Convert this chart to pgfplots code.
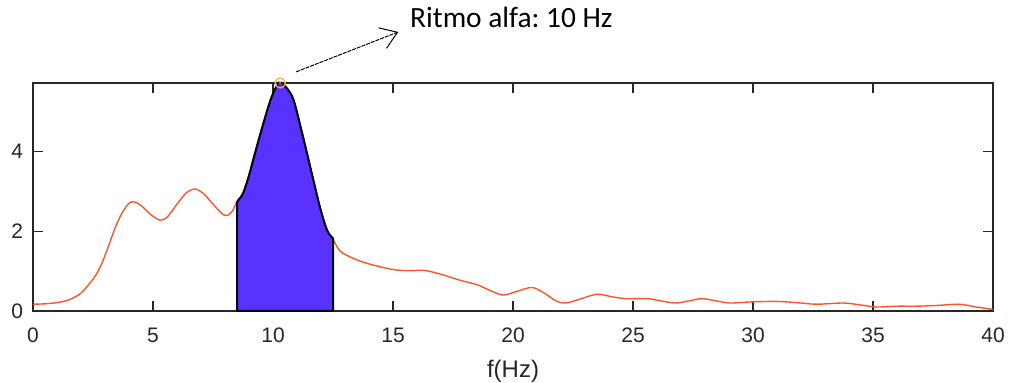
\documentclass[border=0pt]{standalone}
\usepackage{fontspec}
\setmainfont{Liberation Sans}
\newfontfamily\notefont{Carlito}
\usepackage{pgfplots}
\pgfplotsset{compat=1.18}
\usetikzlibrary{arrows.meta}

\definecolor{spec}{RGB}{250,85,45}
\definecolor{alpha}{RGB}{90,50,255}
\definecolor{axgray}{RGB}{38,38,38}
\definecolor{peakmk}{RGB}{240,180,50}

\begin{document}
\frenchspacing
\begin{tikzpicture}
\path[use as bounding box] (-16.5pt,-36pt) rectangle (488.5pt,155.5pt);
\begin{axis}[
  scale only axis,
  width=480pt, height=114pt,
  xmin=0, xmax=40, ymin=0, ymax=5.72,
  xtick={0,5,...,40}, ytick={0,2,4},
  tick align=inside,
  major tick length=5pt,
  axis line style={axgray, line width=0.65pt},
  every tick/.style={axgray, line width=0.65pt},
  tick label style={font=\fontsize{10.5}{12}\selectfont, text=axgray},
  /pgf/number format/assume math mode=true,
  xticklabel style={yshift=-5pt},
  yticklabel style={xshift=-1.5pt},
  xlabel={f(Hz)},
  xlabel style={font=\fontsize{12}{14}\selectfont, text=axgray,
    at={(axis description cs:0.5,0)}, anchor=north, yshift=-21.2pt},
  clip=false,
]
% power spectrum
\addplot[spec, line width=0.7pt, smooth] coordinates {
(0,0.17) (0.5,0.18) (1.0,0.21) (1.5,0.28) (2.0,0.45) (2.5,0.80) (2.8,1.10)
(3.1,1.55) (3.4,2.05) (3.7,2.45) (4.0,2.70) (4.2,2.74) (4.5,2.65) (4.9,2.42)
(5.3,2.28) (5.6,2.36) (6.0,2.68) (6.4,2.97) (6.75,3.06) (7.1,2.95) (7.5,2.68)
(7.9,2.43) (8.1,2.40) (8.3,2.50) (8.5,2.74) (8.75,2.95) (9.0,3.40) (9.2,3.85)
(9.6,4.71) (9.95,5.38) (10.3,5.72) (10.8,5.38) (11.15,4.62) (11.55,3.62)
(11.95,2.62) (12.25,2.03) (12.5,1.80) (12.8,1.50) (13.35,1.32) (14.0,1.18)
(15.0,1.04) (15.7,1.01) (16.3,1.02) (17.0,0.92) (17.8,0.77) (18.5,0.66)
(19.1,0.50) (19.6,0.40) (20.2,0.50) (20.8,0.59) (21.3,0.45) (21.8,0.25)
(22.2,0.20) (22.8,0.30) (23.5,0.42) (24.1,0.36) (24.7,0.31) (25.6,0.31)
(26.1,0.26) (26.75,0.20) (27.3,0.25) (27.86,0.31) (28.5,0.25) (29.04,0.20)
(30.0,0.23) (31.0,0.24) (31.8,0.21) (32.65,0.17) (33.76,0.20) (34.5,0.15)
(35.15,0.10) (36.0,0.12) (36.8,0.12) (37.7,0.14) (38.6,0.17) (39.3,0.10)
(40,0.04)};
% alpha band 8.5--12.5 Hz
\addplot[fill=alpha, draw=black, line width=1pt, smooth] coordinates {
(8.5,2.74) (8.75,2.95) (9.0,3.40) (9.2,3.85) (9.6,4.71) (9.95,5.38)
(10.3,5.72) (10.8,5.38) (11.15,4.62) (11.55,3.62) (11.95,2.62)
(12.25,2.03) (12.5,1.82)} \closedcycle;
% spectral peak
\addplot[only marks, mark=o, mark size=2.5pt, draw=peakmk, line width=0.6pt]
  coordinates {(10.3,5.72)};
\addplot[only marks, mark=x, mark size=1.3pt, draw=violet!70, line width=0.4pt]
  coordinates {(10.3,5.72)};
\draw[black, line width=0.5pt, dash pattern=on 2pt off 0.5pt,
  -{Straight Barb[length=8pt, width=11pt, line width=0.5pt]}]
  (axis cs:10.97,6.0) -- (axis cs:15.22,7.0);
\node[anchor=base west, inner sep=0, font=\notefont\fontsize{14.7}{17}\selectfont]
  at (axis cs:15.7,7.1) {Ritmo alfa: 10 Hz};
\end{axis}
\end{tikzpicture}
\end{document}
